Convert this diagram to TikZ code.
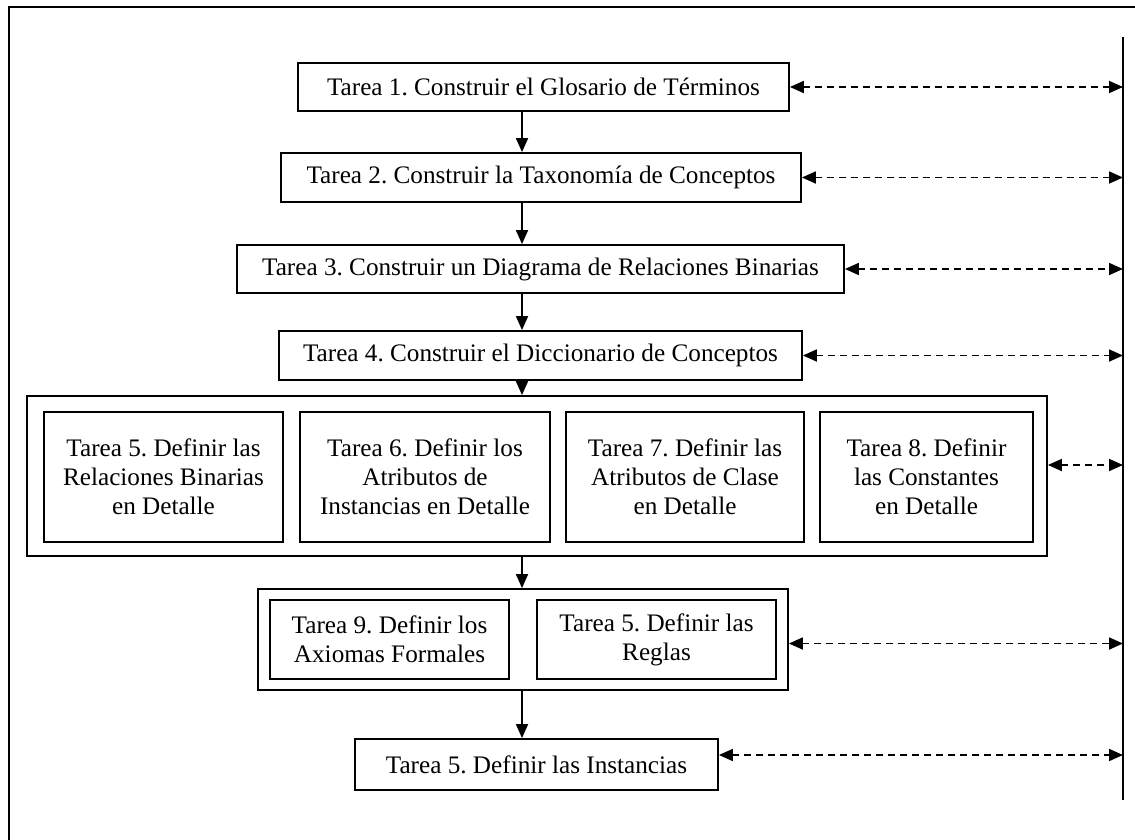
\documentclass[tikz,border=0pt]{standalone}
\usepackage{fontspec}
\setmainfont{Liberation Serif}
\usetikzlibrary{arrows.meta}
\frenchspacing
\begin{document}
\begin{tikzpicture}[x=1bp,y=-1bp,
  task/.style={draw,line width=1.8bp,inner sep=0pt,align=center,
    font=\fontsize{25.3}{29}\selectfont},
  group/.style={draw,line width=1.8bp,inner sep=0pt},
  flow/.style={line width=1.8bp,-{Triangle[length=14bp,width=12bp]}},
  link/.style={line width=1.8bp,dash pattern=on 7bp off 5bp,
    {Triangle[length=14bp,width=12bp]}-{Triangle[length=14bp,width=12bp]}},
  frame/.style={line width=2.4bp}]
\useasboundingbox (0,0) rectangle (1135,840);

% page frame (top and left edges)
\draw[frame] (1135,7) -- (9,7) -- (9,840);

% right-hand vertical line
\coordinate (lt) at (1123,37);
\coordinate (lb) at (1123,800);
\draw[line width=1.8bp] (lt) -- (lb);

% column of tasks
\coordinate (ax) at (522,0);
\node[task,minimum width=491bp,minimum height=48bp] (t1) at (543.5,87)
  {Tarea 1. Construir el Glosario de Términos};
\node[task,minimum width=520bp,minimum height=49bp] (t2) at (541,177.5)
  {Tarea 2. Construir la Taxonomía de Conceptos};
\node[task,minimum width=607bp,minimum height=48bp] (t3) at (540.5,269)
  {Tarea 3. Construir un Diagrama de Relaciones Binarias};
\node[task,minimum width=523bp,minimum height=49bp] (t4) at (540.5,355.5)
  {Tarea 4. Construir el Diccionario de Conceptos};

% group of tasks 5-8
\node[group,minimum width=1020bp,minimum height=160bp] (g1) at (537,476) {};
\node[task,minimum width=239bp,minimum height=130bp] (t5) at (163.5,477)
  {Tarea 5. Definir las\\Relaciones Binarias\\en Detalle};
\node[task,minimum width=250bp,minimum height=130bp] (t6) at (425,477)
  {Tarea 6. Definir los\\Atributos de\\Instancias en Detalle};
\node[task,minimum width=238bp,minimum height=130bp] (t7) at (685,477)
  {Tarea 7. Definir las\\Atributos de Clase\\en Detalle};
\node[task,minimum width=213bp,minimum height=130bp] (t8) at (926.5,477)
  {Tarea 8. Definir\\las Constantes\\en Detalle};

% group of task 9 and the rules
\node[group,minimum width=530bp,minimum height=101bp] (g2) at (523,639.5) {};
\node[task,minimum width=239bp,minimum height=79bp] (t9) at (389.5,639.5)
  {Tarea 9. Definir los\\Axiomas Formales};
\node[task,minimum width=239bp,minimum height=79bp] (tr) at (656.5,639.5)
  {Tarea 5. Definir las\\Reglas};

% last task
\node[task,minimum width=363bp,minimum height=51bp] (ti) at (536.5,764.5)
  {Tarea 5. Definir las Instancias};

% sequence arrows
\draw[flow] (t1.south -| ax) -- (t2.north -| ax);
\draw[flow] (t2.south -| ax) -- (t3.north -| ax);
\draw[flow] (t3.south -| ax) -- (t4.north -| ax);
\draw[flow] (t4.south -| ax) -- (g1.north -| ax);
\draw[flow] (g1.south -| ax) -- (g2.north -| ax);
\draw[flow] (g2.south -| ax) -- (ti.north -| ax);

% links to the vertical line
\draw[link] (t1.east) -- (t1.east -| lt);
\draw[link] (t2.east) -- (t2.east -| lt);
\draw[link] (t3.east) -- (t3.east -| lt);
\draw[link] (t4.east) -- (t4.east -| lt);
\draw[link] ([yshift=11bp]g1.east) -- ([yshift=11bp]g1.east -| lt);
\draw[link] ([yshift=-4bp]g2.east) -- ([yshift=-4bp]g2.east -| lt);
\draw[link] ([yshift=9.5bp]ti.east) -- ([yshift=9.5bp]ti.east -| lt);
\end{tikzpicture}
\end{document}
